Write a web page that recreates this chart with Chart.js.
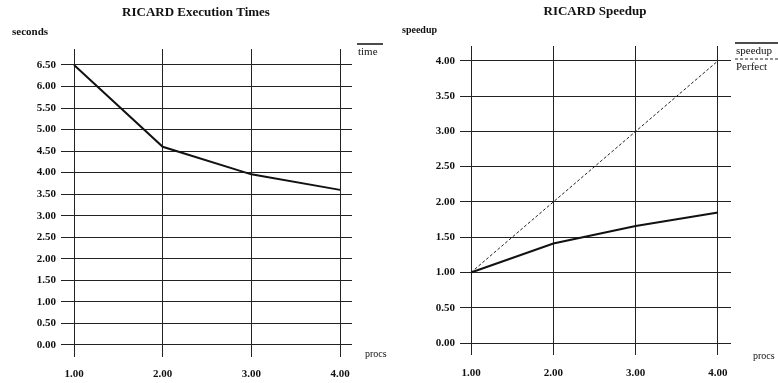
<!DOCTYPE html>
<html>
<head>
<meta charset="utf-8">
<script src="https://cdn.jsdelivr.net/npm/chart.js@4.4.0/dist/chart.umd.min.js"></script>
<style>
  body { margin: 0; background: #fff; }
  #timeChart { position: absolute; left: 0; top: 0; }
  #speedChart { position: absolute; left: 390px; top: 0; }
</style>
</head>
<body>
<canvas id="timeChart" width="390" height="383"></canvas>
<canvas id="speedChart" width="388" height="383"></canvas>
<script>
// values
var procs = [1, 2, 3, 4];
var timeSeconds = [6.50, 4.60, 3.96, 3.60];
var speedup = [1.00, 1.41, 1.66, 1.85];
var perfect = [1, 2, 3, 4];

var procTicks = [1, 2, 3, 4];
var timeTicks = [0, 0.5, 1, 1.5, 2, 2.5, 3, 3.5, 4, 4.5, 5, 5.5, 6, 6.5];
var speedTicks = [0, 0.5, 1, 1.5, 2, 2.5, 3, 3.5, 4];

var SERIF = '"Liberation Serif", "DejaVu Serif", serif';
Chart.defaults.font.family = SERIF;
Chart.defaults.color = '#111';

function pts(xs, ys) {
  return xs.map(function (x, i) { return { x: x, y: ys[i] }; });
}

function fixedTicks(list) {
  return function (scale) {
    scale.ticks = list.map(function (v) { return { value: v }; });
  };
}

// titles, axis names and the little legend, drawn on the canvas
function annotations(opts) {
  return {
    id: 'annotations',
    afterDraw: function (chart) {
      var ctx = chart.ctx;
      ctx.save();
      ctx.fillStyle = '#111';
      ctx.textBaseline = 'middle';

      ctx.font = 'bold 13px ' + SERIF;
      ctx.textAlign = 'center';
      ctx.fillText(opts.title, opts.titleX, opts.titleY);

      ctx.textAlign = 'left';
      ctx.font = 'bold ' + opts.yNameSize + 'px ' + SERIF;
      ctx.fillText(opts.yName, opts.yNameX, opts.yNameY);

      ctx.font = '10px ' + SERIF;
      ctx.fillText(opts.xName, opts.xNameX, opts.xNameY);

      ctx.font = '11px ' + SERIF;
      chart.data.datasets.forEach(function (ds, i) {
        var y = opts.legendY + i * 16;
        ctx.beginPath();
        ctx.strokeStyle = ds.borderColor;
        ctx.lineWidth = ds.borderWidth > 1 ? 1.5 : 1;
        ctx.setLineDash(ds.borderDash || []);
        ctx.moveTo(opts.legendX, y - 7);
        ctx.lineTo(opts.legendX + opts.legendW, y - 7);
        ctx.stroke();
        ctx.setLineDash([]);
        ctx.fillText(ds.label, opts.legendX + 1, y + 1);
      });
      ctx.restore();
    }
  };
}

function axisOpts(min, max, ticks, width, height, pad, isX) {
  var o = {
    type: 'linear',
    min: min,
    max: max,
    afterBuildTicks: fixedTicks(ticks),
    grid: { color: '#222', lineWidth: 1, drawTicks: false },
    border: { display: false },
    ticks: {
      padding: pad,
      font: { size: 11, weight: 'bold' },
      color: '#111',
      callback: function (v) { return Number(v).toFixed(2); }
    }
  };
  if (isX) {
    o.afterFit = function (s) { s.height = height; };
  } else {
    o.afterFit = function (s) { s.width = width; };
  }
  return o;
}

new Chart(document.getElementById('timeChart'), {
  type: 'line',
  data: {
    datasets: [{
      label: 'time',
      data: pts(procs, timeSeconds),
      borderColor: '#111',
      borderWidth: 2,
      pointRadius: 0,
      tension: 0
    }]
  },
  options: {
    responsive: false,
    animation: false,
    devicePixelRatio: 1,
    layout: { padding: { left: 0, right: 38, top: 49, bottom: 0 } },
    plugins: { legend: { display: false }, tooltip: { enabled: false } },
    scales: {
      x: axisOpts(0.853, 4.135, procTicks, 0, 26, 11, true),
      y: axisOpts(-0.28, 6.87, timeTicks, 61, 0, 5, false)
    }
  },
  plugins: [annotations({
    title: 'RICARD Execution Times', titleX: 196, titleY: 13,
    yName: 'seconds', yNameSize: 11, yNameX: 12, yNameY: 32,
    xName: 'procs', xNameX: 365, xNameY: 354,
    legendX: 357, legendY: 51, legendW: 26
  })]
});

new Chart(document.getElementById('speedChart'), {
  type: 'line',
  data: {
    datasets: [{
      label: 'speedup',
      data: pts(procs, speedup),
      borderColor: '#111',
      borderWidth: 2,
      pointRadius: 0,
      tension: 0
    }, {
      label: 'Perfect',
      data: pts(procs, perfect),
      borderColor: '#222',
      borderWidth: 1,
      borderDash: [3, 2],
      pointRadius: 0,
      tension: 0
    }]
  },
  options: {
    responsive: false,
    animation: false,
    devicePixelRatio: 1,
    layout: { padding: { left: 0, right: 47, top: 46, bottom: 0 } },
    plugins: { legend: { display: false }, tooltip: { enabled: false } },
    scales: {
      x: axisOpts(0.866, 4.158, procTicks, 0, 28, 12, true),
      y: axisOpts(-0.17, 4.21, speedTicks, 70, 0, 5, false)
    }
  },
  plugins: [annotations({
    title: 'RICARD Speedup', titleX: 205, titleY: 12,
    yName: 'speedup', yNameSize: 10, yNameX: 12, yNameY: 30,
    xName: 'procs', xNameX: 363, xNameY: 356,
    legendX: 345, legendY: 50, legendW: 43
  })]
});
</script>
</body>
</html>
